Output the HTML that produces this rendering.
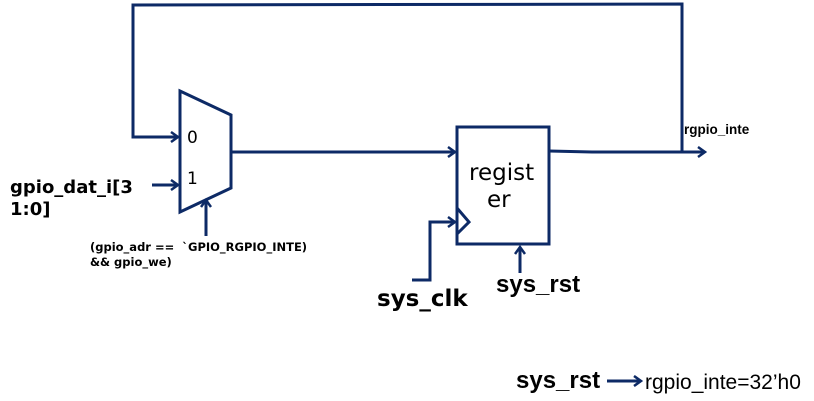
<!DOCTYPE html>
<html><head><meta charset="utf-8"><style>
body{margin:0;background:#fff;width:814px;height:401px;overflow:hidden}
svg{display:block}
text{font-family:"Liberation Sans",sans-serif;fill:#000}
.d{font-family:"DejaVu Sans",sans-serif}
</style></head><body>
<svg width="814" height="401" viewBox="0 0 814 401">
<defs><marker id="a" markerWidth="12" markerHeight="12" refX="9" refY="6" orient="auto" markerUnits="userSpaceOnUse"><path d="M2,1 L9,6 L2,11" fill="none" stroke="#0d2a66" stroke-width="2.5"/></marker></defs>
<g stroke="#0d2a66" stroke-width="3" fill="none">
<polyline points="682,152 682,4 133,5 133,137 178,137" marker-end="url(#a)"/>
<line x1="152" y1="185" x2="178" y2="185" marker-end="url(#a)"/>
<line x1="206" y1="236" x2="206" y2="200" marker-end="url(#a)"/>
<polygon points="180,91 231,115 231,188 180,212"/>
<line x1="231" y1="152" x2="455" y2="152" marker-end="url(#a)"/>
<rect x="457" y="127" width="92" height="117"/>
<polyline points="457,208 469,222 457,234"/>
<polyline points="412,280 430,280 430,222 455,222" marker-end="url(#a)"/>
<line x1="520" y1="273" x2="520" y2="247" marker-end="url(#a)"/>
<polyline points="549,151 592,152 705,152" marker-end="url(#a)"/>
<line x1="607" y1="381" x2="641" y2="381" marker-end="url(#a)"/>
</g>
<text class="d" x="187" y="143" font-size="17">0</text>
<text class="d" x="187" y="184" font-size="17">1</text>
<text class="d" x="469" y="180" font-size="23">regist</text>
<text class="d" x="487" y="207" font-size="23">er</text>
<text class="d" x="10" y="193" font-size="18" font-weight="bold">gpio_dat_i[3</text>
<text class="d" x="10" y="215" font-size="18" font-weight="bold">1:0]</text>
<text class="d" x="90" y="251" font-size="11.5" font-weight="bold" xml:space="preserve" style="white-space:pre">(gpio_adr ==  `GPIO_RGPIO_INTE)</text>
<text class="d" x="90" y="266" font-size="11.5" font-weight="bold">&amp;&amp; gpio_we)</text>
<text x="684" y="134" font-size="13.5" font-weight="bold">rgpio_inte</text>
<text class="d" x="377" y="306" font-size="23" font-weight="bold">sys_clk</text>
<text x="496" y="292" font-size="24" font-weight="bold">sys_rst</text>
<text x="516" y="388" font-size="24" font-weight="bold">sys_rst</text>
<text x="645" y="389" font-size="21">rgpio_inte=32’h0</text>
</svg>
</body></html>
